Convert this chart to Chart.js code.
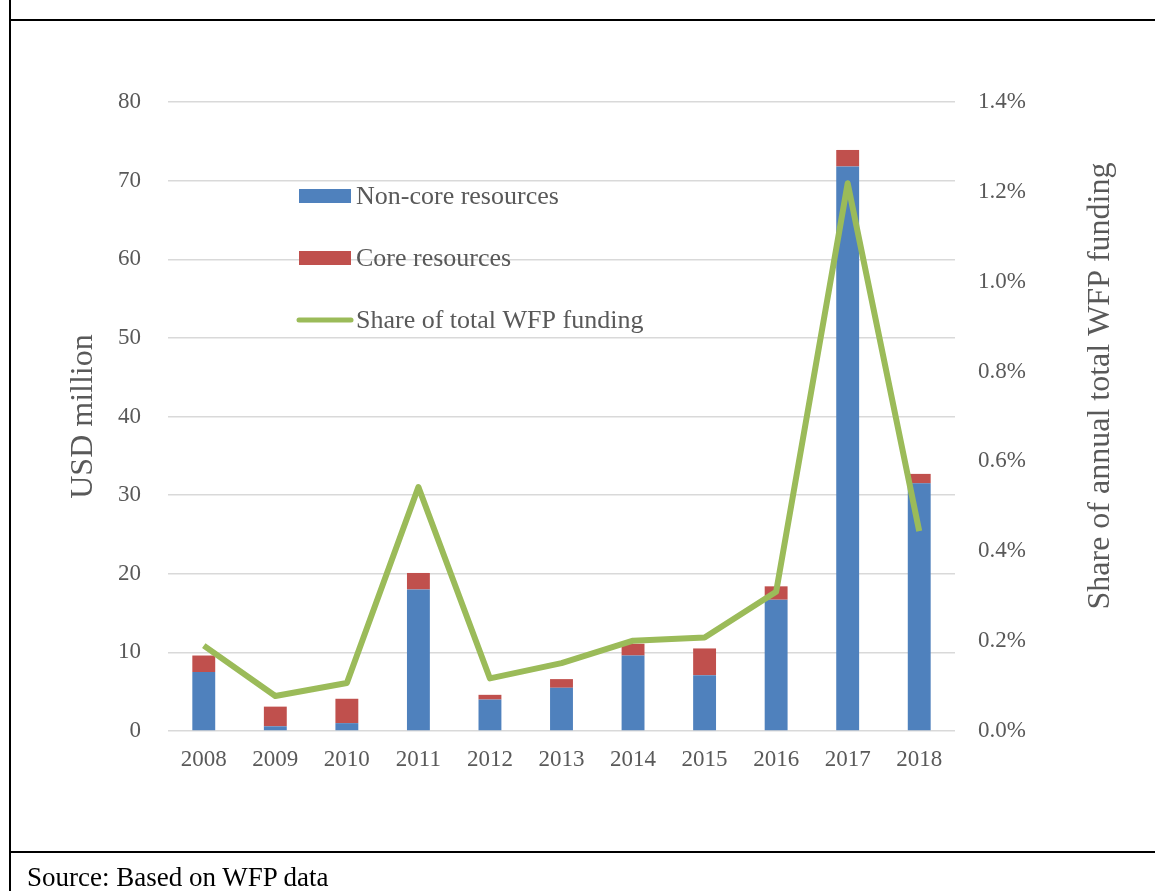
<!DOCTYPE html>
<html>
<head>
<meta charset="utf-8">
<script src="https://cdn.jsdelivr.net/npm/chart.js@4.4.0/dist/chart.umd.min.js"></script>
<style>
  html, body { margin: 0; padding: 0; background: #fff; }
  body { width: 1155px; height: 891px; position: relative; overflow: hidden; font-family: "Liberation Serif", "Times New Roman", serif; }
  #chart { position: absolute; left: 0; top: 0; }
  .frame { position: absolute; left: 9px; top: 19px; width: 1160px; height: 834px; border: 2px solid #000; box-sizing: border-box; }
  .leftline { position: absolute; left: 9px; top: 0; width: 2px; height: 891px; background: #000; }
  .source { position: absolute; left: 27px; top: 862px; font-size: 27px; line-height: 31px; color: #000; }
</style>
</head>
<body>
<div class="leftline"></div>
<div class="frame"></div>
<canvas id="chart" width="1155" height="891"></canvas>
<div class="source">Source: Based on WFP data</div>

<script>
// data gelezen uit de figuur
const years = ["2008", "2009", "2010", "2011", "2012", "2013", "2014", "2015", "2016", "2017", "2018"];
const nonCore = [7.5, 0.6, 1.0, 18.0, 4.0, 5.5, 9.6, 7.1, 16.7, 71.8, 31.5];
const core = [2.1, 2.5, 3.1, 2.1, 0.6, 1.1, 1.5, 3.4, 1.7, 2.1, 1.2];
const sharePct = [0.19, 0.078, 0.107, 0.543, 0.117, 0.151, 0.201, 0.208, 0.310, 1.219, 0.445];

const grey = "#595959";
const serif = "'Liberation Serif', 'Times New Roman', serif";
const rightTitle = "Share of annual total WFP funding";

// legenda binnen het plotgebied + rechter as-titel (leest van onder naar boven)
const extras = {
    id: "extras",
    afterDraw(chart) {
        const ctx = chart.ctx;
        const ds = chart.data.datasets;
        const items = [
            { d: ds[1], y: 196, type: "box" },
            { d: ds[2], y: 258, type: "box" },
            { d: ds[0], y: 320, type: "line" }
        ];
        ctx.save();
        ctx.font = "26px " + serif;
        ctx.textBaseline = "middle";
        items.forEach(it => {
            if (it.type === "box") {
                ctx.fillStyle = it.d.backgroundColor;
                ctx.fillRect(299, it.y - 7, 52, 14);
            } else {
                ctx.strokeStyle = it.d.borderColor;
                ctx.lineWidth = 5;
                ctx.lineCap = "round";
                ctx.beginPath();
                ctx.moveTo(299, it.y);
                ctx.lineTo(351, it.y);
                ctx.stroke();
            }
            ctx.fillStyle = grey;
            ctx.fillText(it.d.label, 356, it.y + 1);
        });

        // rechter titel
        const area = chart.chartArea;
        ctx.translate(1101, 386);
        ctx.rotate(-Math.PI / 2);
        ctx.font = "32px " + serif;
        ctx.textAlign = "center";
        ctx.fillText(rightTitle, 0, 0);
        ctx.restore();
    }
};

const ctx = document.getElementById("chart").getContext("2d");
new Chart(ctx, {
    type: "bar",
    data: {
        labels: years,
        datasets: [
            {
                type: "line",
                label: "Share of total WFP funding",
                data: sharePct,
                yAxisID: "y1",
                borderColor: "#9BBB59",
                borderWidth: 6,
                pointRadius: 0,
                tension: 0,
                borderJoinStyle: "round",
                order: 0
            },
            {
                label: "Non-core resources",
                data: nonCore,
                yAxisID: "y",
                backgroundColor: "#4F81BD",
                barPercentage: 0.32,
                categoryPercentage: 1,
                order: 1
            },
            {
                label: "Core resources",
                data: core,
                yAxisID: "y",
                backgroundColor: "#C0504D",
                barPercentage: 0.32,
                categoryPercentage: 1,
                order: 1
            }
        ]
    },
    options: {
        responsive: false,
        animation: false,
        layout: { padding: { left: 60, right: 32, top: 102, bottom: 100 } },
        plugins: {
            legend: { display: false },
            tooltip: { enabled: false }
        },
        scales: {
            x: {
                stacked: true,
                grid: { display: false, drawTicks: false },
                border: { display: false },
                ticks: { color: grey, font: { family: serif, size: 23 }, padding: 15, maxRotation: 0 },
                afterFit: s => { s.height = 60; }
            },
            y: {
                stacked: true,
                position: "left",
                min: 0,
                max: 80,
                ticks: { stepSize: 10, color: grey, font: { family: serif, size: 23 }, padding: 27 },
                grid: { color: "#d9d9d9", lineWidth: 1.5, drawTicks: false },
                border: { display: false },
                title: { display: true, text: "USD million", color: grey, font: { family: serif, size: 32 }, padding: 4 },
                afterFit: s => { s.width = 108; }
            },
            y1: {
                position: "right",
                min: 0,
                max: 1.4,
                ticks: {
                    stepSize: 0.2,
                    color: grey,
                    font: { family: serif, size: 23 },
                    padding: 23,
                    callback: v => v.toFixed(1) + "%"
                },
                grid: { display: false, drawTicks: false },
                border: { display: false },
                afterFit: s => { s.width = 168; }
            }
        }
    },
    plugins: [extras]
});
</script>
</body>
</html>
